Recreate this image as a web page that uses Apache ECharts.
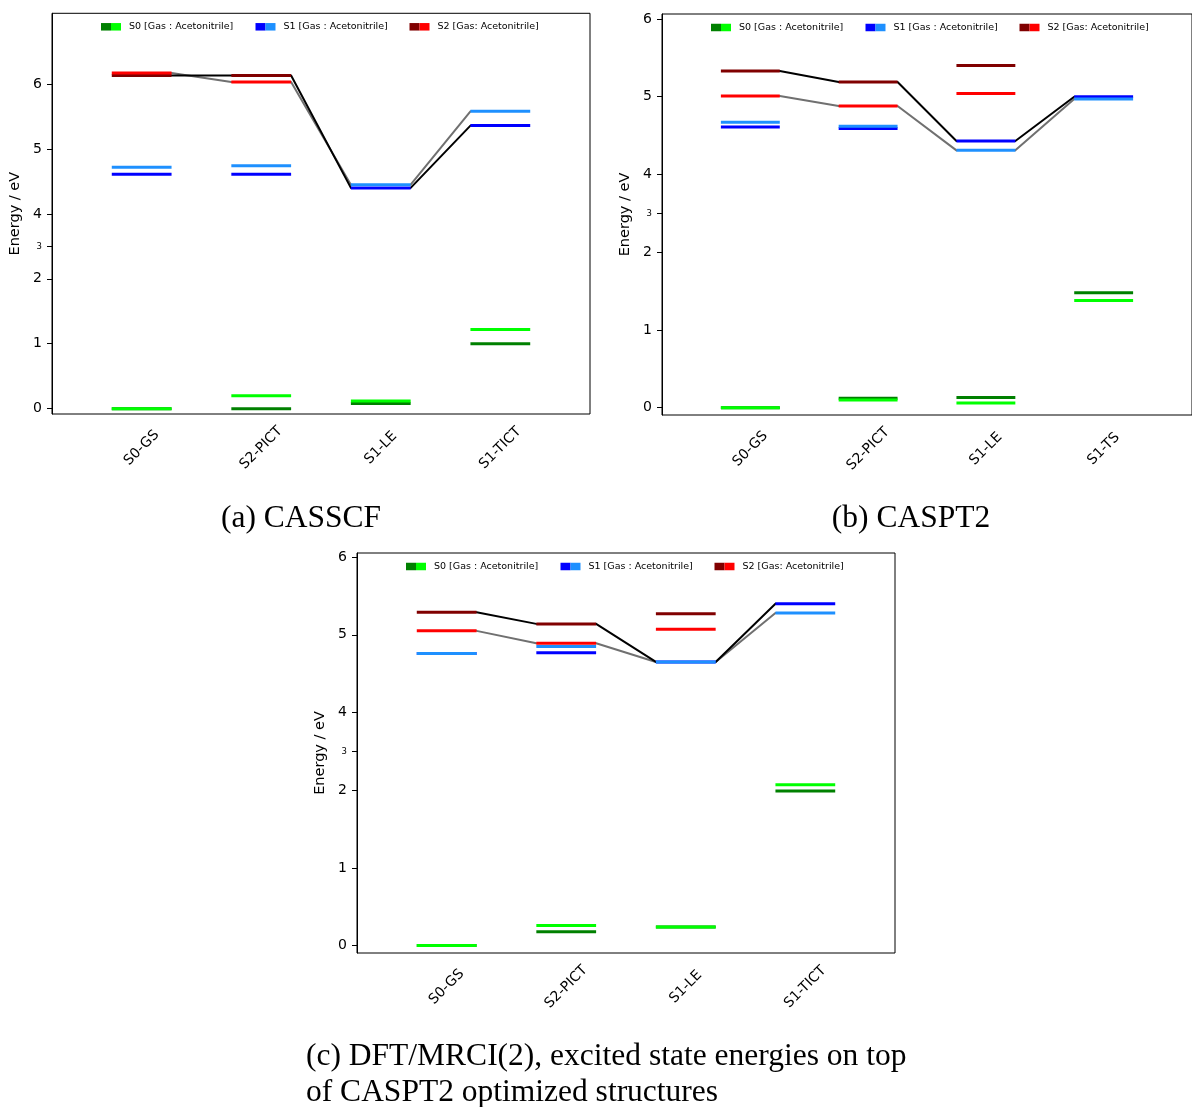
<!DOCTYPE html>
<html>
<head>
<meta charset="utf-8">
<script src="https://cdn.jsdelivr.net/npm/echarts@6/dist/echarts.min.js"></script>
<style>
html,body{margin:0;padding:0;background:#fff;}
#chart{width:1192px;height:1107px;}
</style>
</head>
<body>
<div id="chart"></div>
<script>
// ---------------- DATA ----------------
const categoriesA = ['S0-GS', 'S2-PICT', 'S1-LE', 'S1-TICT'];
const categoriesB = ['S0-GS', 'S2-PICT', 'S1-LE', 'S1-TS'];
const categoriesC = ['S0-GS', 'S2-PICT', 'S1-LE', 'S1-TICT'];

// (a) CASSCF  [gas, acetonitrile]
const a_S0_gas = [0.00, 0.00, 0.08, 1.00];
const a_S0_acn = [0.00, 0.20, 0.12, 1.22];
const a_S1_gas = [4.61, 4.61, 4.40, 5.36];
const a_S1_acn = [4.72, 4.74, 4.45, 5.58];
const a_S2_gas = [6.13, 6.13, null, null];
const a_S2_acn = [6.17, 6.03, null, null];

// (b) CASPT2
const b_S0_gas = [0.00, 0.12, 0.13, 1.48];
const b_S0_acn = [0.00, 0.10, 0.06, 1.38];
const b_S1_gas = [4.61, 4.59, 4.43, 5.00];
const b_S1_acn = [4.67, 4.62, 4.31, 4.97];
const b_S2_gas = [5.33, 5.19, 5.40, null];
const b_S2_acn = [5.01, 4.88, 5.04, null];

// (c) DFT/MRCI(2)
const c_S0_gas = [0.00, 0.18, 0.24, 1.99];
const c_S0_acn = [0.00, 0.26, 0.24, 2.14];
const c_S1_gas = [4.76, 4.77, 4.65, 5.40];
const c_S1_acn = [4.76, 4.85, 4.65, 5.28];
const c_S2_gas = [5.29, 5.14, 5.27, null];
const c_S2_acn = [5.05, 4.89, 5.07, null];

// state followed by the connecting paths at each structure
const pathStates = ['S2', 'S2', 'S1', 'S1'];

const yTickLabels = [0, 1, 2, 3, 4, 5, 6];
const legendLabels = ['S0 [Gas : Acetonitrile]', 'S1 [Gas : Acetonitrile]', 'S2 [Gas: Acetonitrile]'];
const captionA = '(a) CASSCF';
const captionB = '(b) CASPT2';
const captionC1 = '(c) DFT/MRCI(2), excited state energies on top';
const captionC2 = 'of CASPT2 optimized structures';

// ---------------- STYLE / LAYOUT ----------------
const colors = {
  S0: ['#008000', '#00ff00'],
  S1: ['#0000ff', '#1e90ff'],
  S2: ['#800000', '#ff0000']
};
const HALF = 0.25;
// broken (compressed) energy axis: 2..4 eV shown at half scale
function T(v) { return v <= 2 ? v : (v <= 4 ? 2 + (v - 2) / 2 : v - 1); }
function invT(t) { return t <= 2 ? t : (t <= 3 ? 2 + (t - 2) * 2 : t + 1); }

const panels = [
  { cats: categoriesA, data: {S0:[a_S0_gas,a_S0_acn], S1:[a_S1_gas,a_S1_acn], S2:[a_S2_gas,a_S2_acn]},
    left: 52, top: 13.3, width: 538, height: 400.7, ymin: -0.082, ymax: 6.089 },
  { cats: categoriesB, data: {S0:[b_S0_gas,b_S0_acn], S1:[b_S1_gas,b_S1_acn], S2:[b_S2_gas,b_S2_acn]},
    left: 662, top: 14, width: 538, height: 401, ymin: -0.094, ymax: 5.064 },
  { cats: categoriesC, data: {S0:[c_S0_gas,c_S0_acn], S1:[c_S1_gas,c_S1_acn], S2:[c_S2_gas,c_S2_acn]},
    left: 357, top: 553, width: 538, height: 400, ymin: -0.095, ymax: 5.052 }
];

const grids = [], xAxes = [], yAxes = [], series = [], graphics = [];

panels.forEach((p, pi) => {
  grids.push({ left: p.left, top: p.top, width: p.width, height: p.height,
    show: true, borderColor: '#000', borderWidth: 1, backgroundColor: 'transparent' });
  const cats = p.cats;
  xAxes.push({
    gridIndex: pi, type: 'value', min: -0.75, max: 3.75,
    axisLine: { show: false, onZero: false }, splitLine: { show: false }, axisTick: { show: false },
    axisLabel: {
      customValues: cats.map((c, i) => i),
      formatter: v => cats[Math.round(v)] || '',
      rotate: 45, align: 'center', verticalAlign: 'middle', margin: 34,
      fontFamily: 'DejaVu Sans', fontSize: 14, color: '#000'
    }
  });
  const tickVals = yTickLabels.map(T).filter(t => t <= p.ymax + 1e-9);
  yAxes.push({
    gridIndex: pi, type: 'value', min: p.ymin, max: p.ymax, position: 'left',
    name: 'Energy / eV', nameLocation: 'middle', nameRotate: 90, nameGap: 29,
    nameTextStyle: { fontFamily: 'DejaVu Sans', fontSize: 14.5, color: '#000' },
    axisLine: { show: true, onZero: false, lineStyle: { color: '#000', width: 1 } },
    splitLine: { show: false },
    axisTick: { show: true, customValues: tickVals, length: 5, lineStyle: { color: '#000', width: 1 } },
    axisLabel: {
      customValues: tickVals, margin: 10,
      formatter: v => { const lab = Math.round(invT(v) * 100) / 100; return lab === 3 ? '{s|3}' : String(lab); },
      fontFamily: 'DejaVu Sans', fontSize: 14, color: '#000',
      rich: { s: { fontSize: 8.5, fontFamily: 'DejaVu Sans', color: '#000' } }
    }
  });

  // connecting paths: acetonitrile (grey) and gas (black)
  [[1, '#707070', 2], [0, '#000000', 3]].forEach(([env, col, z]) => {
    const vals = pathStates.map((s, i) => p.data[s][env][i]);
    const segs = [];
    for (let i = 0; i < vals.length - 1; i++) segs.push([i, T(vals[i]), T(vals[i + 1])]);
    series.push({
      type: 'custom', xAxisIndex: pi, yAxisIndex: pi, z: z, silent: true,
      encode: { x: 0, y: [1, 2] },
      data: segs,
      renderItem: (params, api) => {
        const i = api.value(0);
        const p1 = api.coord([i + HALF, api.value(1)]);
        const p2 = api.coord([i + 1 - HALF, api.value(2)]);
        return { type: 'line', shape: { x1: p1[0], y1: p1[1], x2: p2[0], y2: p2[1] },
          style: { stroke: col, lineWidth: 2, lineCap: 'round' } };
      }
    });
  });
  // energy levels
  let z = 10;
  ['S0', 'S1', 'S2'].forEach(s => {
    [0, 1].forEach(env => {
      const vals = p.data[s][env];
      const col = colors[s][env];
      const d = [];
      vals.forEach((v, i) => { if (v !== null && v !== undefined) d.push([i, T(v)]); });
      series.push({
        type: 'custom', xAxisIndex: pi, yAxisIndex: pi, z: z++, silent: true,
        encode: { x: 0, y: 1 },
        data: d,
        renderItem: (params, api) => {
          const i = api.value(0), y = api.value(1);
          const p1 = api.coord([i - HALF, y]);
          const p2 = api.coord([i + HALF, y]);
          return { type: 'line', shape: { x1: p1[0], y1: p1[1], x2: p2[0], y2: p2[1] },
            style: { stroke: col, lineWidth: 3, lineCap: 'butt' } };
        }
      });
    });
  });

  // legend (two-tone patches)
  const ly = p.top + 13.5;
  const offs = [49, 203.5, 357.5];
  ['S0', 'S1', 'S2'].forEach((s, k) => {
    const x0 = p.left + offs[k];
    graphics.push({ type: 'rect', shape: { x: x0, y: ly - 3.75, width: 10, height: 7.5 }, style: { fill: colors[s][0] }, z: 100 });
    graphics.push({ type: 'rect', shape: { x: x0 + 10, y: ly - 3.75, width: 10, height: 7.5 }, style: { fill: colors[s][1] }, z: 100 });
    graphics.push({ type: 'text', x: x0 + 28, y: ly, z: 100,
      style: { text: legendLabels[k], fill: '#000', font: '9.5px "DejaVu Sans"', verticalAlign: 'middle', align: 'left' } });
  });
});

// captions
const capFont = '31.5px "Liberation Serif"';
graphics.push({ type: 'text', x: 301, y: 519, style: { text: captionA, fill: '#000', font: capFont, align: 'center', verticalAlign: 'middle' } });
graphics.push({ type: 'text', x: 911, y: 519, style: { text: captionB, fill: '#000', font: capFont, align: 'center', verticalAlign: 'middle' } });
graphics.push({ type: 'text', x: 306, y: 1057, style: { text: captionC1, fill: '#000', font: capFont, align: 'left', verticalAlign: 'middle' } });
graphics.push({ type: 'text', x: 306, y: 1093, style: { text: captionC2, fill: '#000', font: capFont, align: 'left', verticalAlign: 'middle' } });

const chart = echarts.init(document.getElementById('chart'), null, { renderer: 'canvas' });
chart.setOption({
  animation: false,
  backgroundColor: '#ffffff',
  grid: grids,
  xAxis: xAxes,
  yAxis: yAxes,
  series: series,
  graphic: { elements: graphics }
});
</script>
</body>
</html>
